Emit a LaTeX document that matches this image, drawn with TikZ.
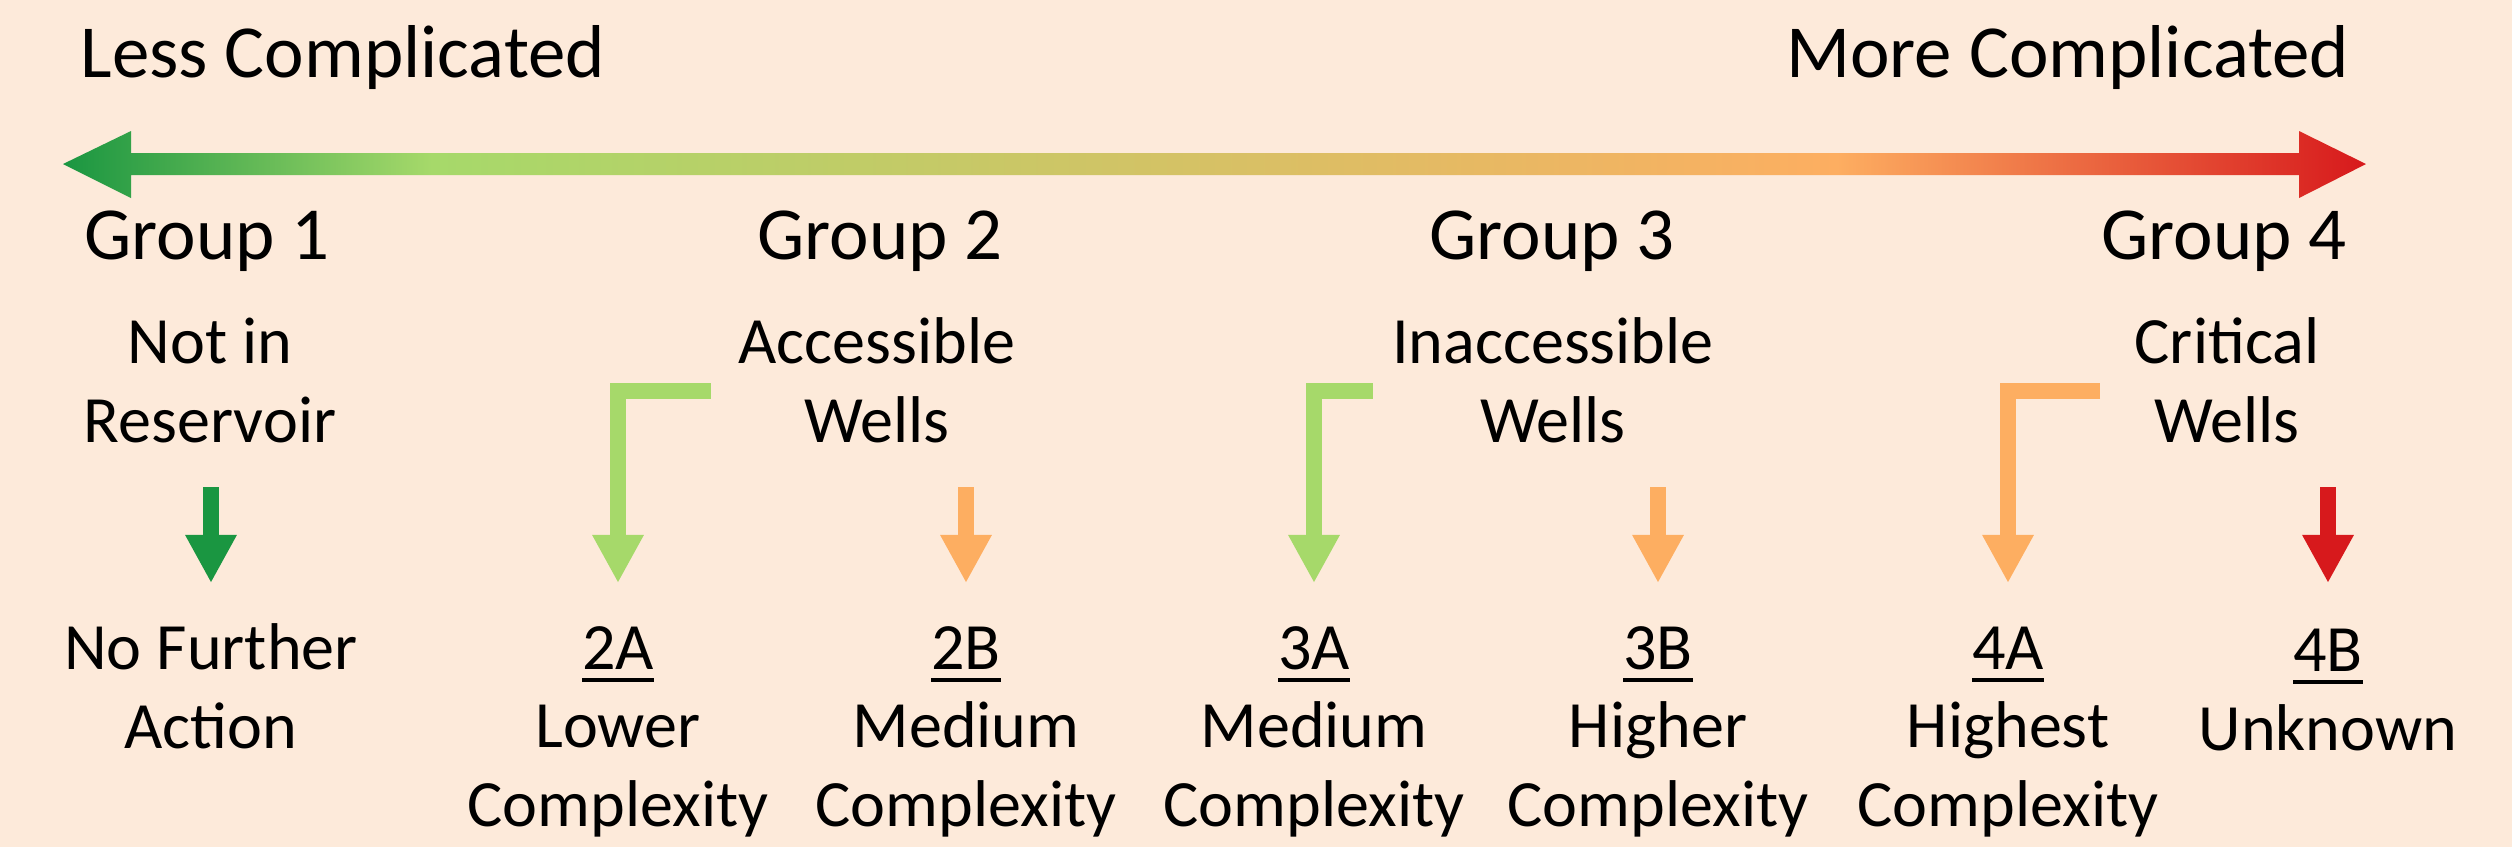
\documentclass[tikz,border=0pt]{standalone}
\usepackage{fontspec}
\setmainfont{Carlito}
\usetikzlibrary{%
	arrows.meta,%
	calc,%
}
\definecolor{cbg}{RGB}{253, 234, 218}
\definecolor{cgreendk}{RGB}{26, 150, 65}
\definecolor{cgreenlt}{RGB}{166, 217, 106}
\definecolor{corange}{RGB}{253, 174, 97}
\definecolor{cred}{RGB}{215, 25, 28}
\pgfdeclarehorizontalshading{spectrum}{100bp}{%
	color(0bp)=(cgreendk); color(25bp)=(cgreendk); color(33bp)=(cgreenlt);%
	color(63.5bp)=(corange); color(75bp)=(cred); color(100bp)=(cred)}
\tikzset{
	>=Triangle,%
	txtbig/.style={%
			font=\fontsize{21.3}{25}\selectfont,%
			inner sep=0},%
	txtsmall/.style={%
			font=\fontsize{18.8}{22.2}\selectfont,%
			align=center,%
			inner sep=0},%
	dnarrow/.style={%
			line width=0.16cm,%
			-{Triangle[length=0.48cm, width=0.48cm]}},%
}
\newcommand{\grpcode}[1]{\setbox0\hbox{#1}\rlap{\rule[-3.4pt]{\wd0}{1.1pt}}\box0}

\begin{document}
\begin{tikzpicture}[x=0.01cm, y=-0.01cm]%
	\fill[cbg] (0,0) rectangle (2512,847);
	\useasboundingbox (0,0) rectangle (2512,847);

	\shade[shading=spectrum] (63,164) -- (131,131) -- (131,153) -- (2299,153) -- (2299,131) -- (2366,164)
		-- (2299,198) -- (2299,175) -- (131,175) -- (131,198) -- cycle;

	\node[txtbig, anchor=base west] (less) at (80,77) {Less Complicated};
	\node[txtbig, anchor=base east] (more) at (2350,77) {More Complicated};

	\node[txtbig, anchor=base] (grp1) at (207,259) {Group 1};
	\node[txtbig, anchor=base] (grp2) at (880,259) {Group 2};
	\node[txtbig, anchor=base] (grp3) at (1552,259) {Group 3};
	\node[txtbig, anchor=base] (grp4) at (2224,259) {Group 4};

	% base is the last line
	\node[txtsmall, anchor=base] (notin) at (210,442) {Not in\\Reservoir};
	\node[txtsmall, anchor=base] (acc) at (877,442) {Accessible\\Wells};
	\node[txtsmall, anchor=base] (inacc) at (1553,442) {Inaccessible\\Wells};
	\node[txtsmall, anchor=base] (crit) at (2227,442) {Critical\\Wells};

	\node[txtsmall, anchor=base] (nfa) at (211,748) {No Further\\Action};
	\node[txtsmall, anchor=base] (twoa) at (618,826) {\grpcode{2A}\\Lower\\Complexity};
	\node[txtsmall, anchor=base] (twob) at (966,826) {\grpcode{2B}\\Medium\\Complexity};
	\node[txtsmall, anchor=base] (threea) at (1314,826) {\grpcode{3A}\\Medium\\Complexity};
	\node[txtsmall, anchor=base] (threeb) at (1658,826) {\grpcode{3B}\\Higher\\Complexity};
	\node[txtsmall, anchor=base] (foura) at (2008,826) {\grpcode{4A}\\Highest\\Complexity};
	\node[txtsmall, anchor=base] (fourb) at (2328,750) {\grpcode{4B}\\Unknown};

	\coordinate (arrtop) at (0,487);
	\coordinate (arrtip) at (0,583);

	\draw[dnarrow, cgreendk] (nfa |- arrtop) -- (nfa |- arrtip);
	\draw[dnarrow, cgreenlt] ([xshift=-0.27cm, yshift=-0.11cm]acc.west) -| (twoa |- arrtip);
	\draw[dnarrow, corange] (twob |- arrtop) -- (twob |- arrtip);
	\draw[dnarrow, cgreenlt] ([xshift=-0.19cm, yshift=-0.11cm]inacc.west) -| (threea |- arrtip);
	\draw[dnarrow, corange] (threeb |- arrtop) -- (threeb |- arrtip);
	\draw[dnarrow, corange] ([xshift=-0.34cm, yshift=-0.11cm]crit.west) -| (foura |- arrtip);
	\draw[dnarrow, cred] (fourb |- arrtop) -- (fourb |- arrtip);
\end{tikzpicture}
\end{document}
